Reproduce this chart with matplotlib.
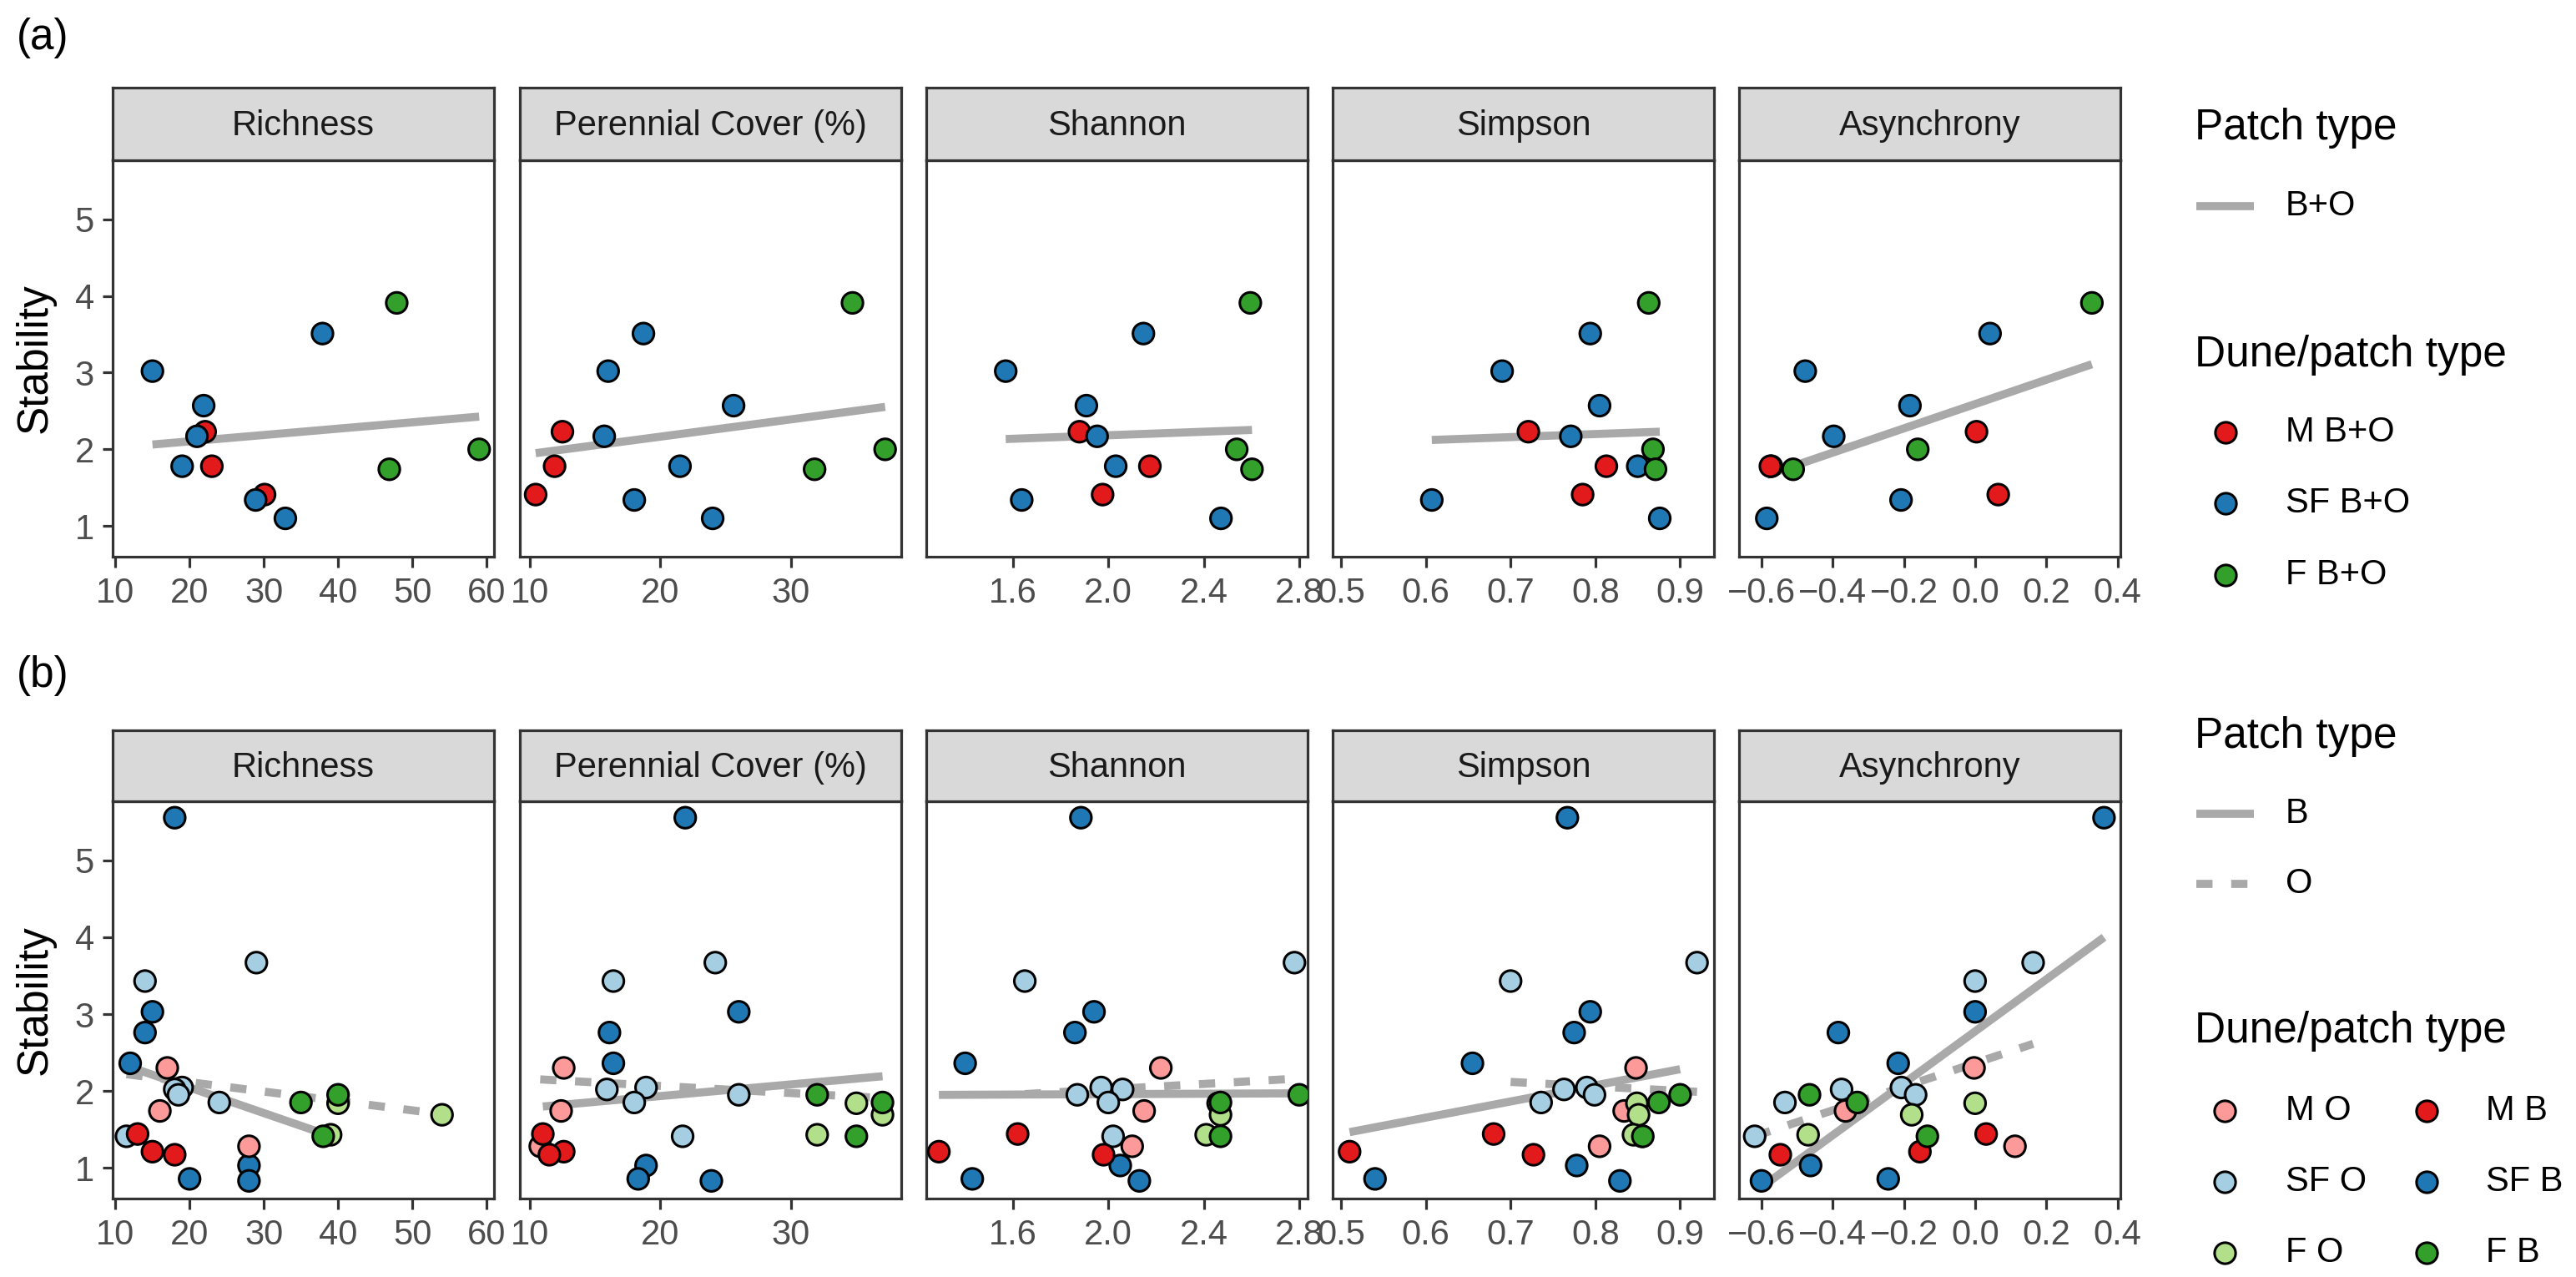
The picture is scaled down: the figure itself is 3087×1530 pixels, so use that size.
import numpy as np
import matplotlib.pyplot as plt

plt.rcParams['font.family'] = ['Liberation Sans', 'DejaVu Sans']

W, H = 3087, 1530

# --- facets ---
facets = ['Richness', 'Perennial Cover (%)', 'Shannon', 'Simpson', 'Asynchrony']
xlims = [(9.64, 61.0), (9.21, 38.4), (1.237, 2.835), (0.49, 0.94), (-0.663, 0.408)]
xticks = [[10, 20, 30, 40, 50, 60], [10, 20, 30], [1.6, 2.0, 2.4, 2.8],
          [0.5, 0.6, 0.7, 0.8, 0.9], [-0.6, -0.4, -0.2, 0.0, 0.2, 0.4]]
xticklabels = [['10', '20', '30', '40', '50', '60'], ['10', '20', '30'],
               ['1.6', '2.0', '2.4', '2.8'], ['0.5', '0.6', '0.7', '0.8', '0.9'],
               ['\u22120.6', '\u22120.4', '\u22120.2', '0.0', '0.2', '0.4']]
ylim = (0.6, 5.77)

# --- panel (a): B+O pooled, one point per site ---
a_group = ['F', 'SF', 'SF', 'SF', 'M', 'SF', 'F', 'SF', 'M', 'F', 'M', 'SF', 'SF']
a_stab = [3.91, 3.51, 3.02, 2.57, 2.23, 2.17, 2.00, 1.78, 1.78, 1.74, 1.41, 1.34, 1.10]
a_rich = [47.9, 37.9, 15.0, 21.9, 22.1, 21.0, 59.0, 19.0, 23.0, 46.9, 30.1, 28.9, 32.9]
a_cover = [34.7, 18.7, 16.0, 25.6, 12.5, 15.7, 37.2, 21.5, 11.9, 31.8, 10.45, 18.0, 24.0]
a_shannon = [2.595, 2.147, 1.57, 1.908, 1.879, 1.953, 2.538, 2.031, 2.174, 2.602, 1.976, 1.637, 2.472]
a_simpson = [0.863, 0.794, 0.69, 0.805, 0.721, 0.771, 0.868, 0.850, 0.813, 0.871, 0.785, 0.607, 0.876]
a_async = [0.328, 0.042, -0.477, -0.183, 0.004, -0.397, -0.161, -0.572, -0.575, -0.511, 0.065, -0.208, -0.585]

# --- panel (b): B and O patches separately ---
b_group = ['SF'] * 7 + ['SF'] * 7 + ['M'] * 3 + ['M'] * 3 + ['F'] * 3 + ['F'] * 3
b_patch = ['B'] * 7 + ['O'] * 7 + ['O'] * 3 + ['B'] * 3 + ['O'] * 3 + ['B'] * 3
b_stab = [5.556, 3.03, 2.76, 2.36, 1.03, 0.856, 0.83,
          3.67, 3.43, 2.045, 2.02, 1.95, 1.85, 1.41,
          2.30, 1.74, 1.28,
          1.44, 1.21, 1.17,
          1.84, 1.69, 1.43,
          1.95, 1.85, 1.41]
b_rich = [18, 15, 14, 12, 28, 20, 28,
          29, 14, 19, 18, 18.5, 24, 11.5,
          17, 16, 28,
          13, 15, 18,
          40, 54, 39,
          40, 35, 38]
b_cover = [21.9, 26.0, 16.1, 16.4, 18.9, 18.3, 23.9,
           24.2, 16.4, 18.9, 15.9, 26.0, 18.0, 21.7,
           12.6, 12.4, 10.8,
           11.0, 12.6, 11.5,
           35.0, 37.0, 32.0,
           32.0, 37.0, 35.0]
b_shannon = [1.885, 1.94, 1.86, 1.40, 2.05, 1.43, 2.13,
             2.78, 1.65, 1.97, 2.06, 1.87, 2.00, 2.02,
             2.22, 2.15, 2.10,
             1.62, 1.29, 1.98,
             2.46, 2.47, 2.41,
             2.80, 2.47, 2.47]
b_simpson = [0.767, 0.794, 0.775, 0.655, 0.778, 0.54, 0.829,
             0.920, 0.70, 0.790, 0.763, 0.799, 0.736, 0.855,
             0.848, 0.834, 0.805,
             0.68, 0.51, 0.727,
             0.849, 0.851, 0.845,
             0.900, 0.875, 0.856]
b_async = [0.362, 0.0, -0.384, -0.216, -0.462, -0.244, -0.6,
           0.163, 0.0, -0.207, -0.375, -0.167, -0.534, -0.619,
           -0.003, -0.364, 0.112,
           0.031, -0.155, -0.547,
           0.0, -0.178, -0.469,
           -0.465, -0.331, -0.134]

colors = {
    'M B+O': '#E31A1C', 'SF B+O': '#1F78B4', 'F B+O': '#33A02C',
    'M O': '#FB9A99', 'SF O': '#A6CEE3', 'F O': '#B2DF8A',
    'M B': '#E31A1C', 'SF B': '#1F78B4', 'F B': '#33A02C',
}
line_col = '#A9A9A9'
border = '#333333'
tick_txt = '#4D4D4D'

FS_TICK = 30
FS_TITLE = 37

# layout in pixels
facet_left = [135, 622.5, 1110, 1597, 2084]
facet_w = 457
rows = {'a': dict(strip_top=105, plot_top=192, plot_bot=667),
        'b': dict(strip_top=875, plot_top=960, plot_bot=1436)}

fig = plt.figure(figsize=(W / 100, H / 100), dpi=100)


def px_rect(x0, y0, x1, y1):
    return [x0 / W, 1 - y1 / H, (x1 - x0) / W, (y1 - y0) / H]


def make_axes(row, j):
    r = rows[row]
    x0 = facet_left[j]
    ax = fig.add_axes(px_rect(x0, r['plot_top'], x0 + facet_w, r['plot_bot']))
    sax = fig.add_axes(px_rect(x0, r['strip_top'], x0 + facet_w, r['plot_top']))
    sax.set_facecolor('#D9D9D9')
    sax.set_xticks([])
    sax.set_yticks([])
    for s in sax.spines.values():
        s.set_color(border)
        s.set_linewidth(2.3)
    sax.text(0.5, 0.47, facets[j], ha='center', va='center', fontsize=FS_TICK,
             color='#1A1A1A', transform=sax.transAxes)
    for s in ax.spines.values():
        s.set_color(border)
        s.set_linewidth(2.3)
    ax.set_xlim(*xlims[j])
    ax.set_ylim(*ylim)
    ax.set_xticks(xticks[j])
    ax.set_xticklabels(xticklabels[j])
    ax.tick_params(axis='x', length=9, width=2.3, color=border, labelsize=FS_TICK,
                   labelcolor=tick_txt, pad=8)
    if j == 0:
        ax.set_yticks([1, 2, 3, 4, 5])
        ax.tick_params(axis='y', length=9, width=2.3, color=border, labelsize=FS_TICK,
                       labelcolor=tick_txt, pad=7)
    else:
        ax.set_yticks([])
    return ax


def fit_line(ax, x, y, ls):
    x = np.asarray(x, float)
    y = np.asarray(y, float)
    k, b = np.polyfit(x, y, 1)
    xs = np.array([x.min(), x.max()])
    if ls == 'solid':
        ax.plot(xs, k * xs + b, color=line_col, lw=7, solid_capstyle='butt', zorder=2)
    else:
        ax.plot(xs, k * xs + b, color=line_col, lw=7, dashes=(2, 2.3),
                dash_capstyle='butt', zorder=2)


a_x = [a_rich, a_cover, a_shannon, a_simpson, a_async]
b_x = [b_rich, b_cover, b_shannon, b_simpson, b_async]

# --- panel (a) ---
a_keys = [g + ' B+O' for g in a_group]
for j in range(5):
    ax = make_axes('a', j)
    fit_line(ax, a_x[j], a_stab, 'solid')
    ax.scatter(a_x[j], a_stab, s=330, c=[colors[k] for k in a_keys],
               edgecolors='black', linewidths=2.2, zorder=3)

# --- panel (b) ---
b_keys = [g + ' ' + p for g, p in zip(b_group, b_patch)]
for j in range(5):
    ax = make_axes('b', j)
    xb = [x for x, p in zip(b_x[j], b_patch) if p == 'B']
    yb = [y for y, p in zip(b_stab, b_patch) if p == 'B']
    xo = [x for x, p in zip(b_x[j], b_patch) if p == 'O']
    yo = [y for y, p in zip(b_stab, b_patch) if p == 'O']
    fit_line(ax, xb, yb, 'solid')
    fit_line(ax, xo, yo, 'dashed')
    ax.scatter(b_x[j], b_stab, s=330, c=[colors[k] for k in b_keys],
               edgecolors='black', linewidths=2.2, zorder=3)

# --- labels ---
fig.text(20 / W, 1 - 45 / H, '(a)', fontsize=FS_TITLE, ha='left', va='center')
fig.text(20 / W, 1 - 810 / H, '(b)', fontsize=FS_TITLE, ha='left', va='center')
for row in 'ab':
    r = rows[row]
    yc = (r['plot_top'] + r['plot_bot']) / 2
    fig.text(42 / W, 1 - yc / H, 'Stability', fontsize=FS_TITLE, rotation=90,
             ha='center', va='center')

# --- legends (drawn on an overlay in pixel units) ---
lax = fig.add_axes([0, 0, 1, 1])
lax.set_xlim(0, W)
lax.set_ylim(H, 0)
lax.axis('off')
lax.patch.set_alpha(0)

LX = 2630
# (a)
lax.text(LX, 153, 'Patch type', fontsize=FS_TITLE, va='center', ha='left')
lax.plot([2632, 2701], [247, 247], color=line_col, lw=7, solid_capstyle='butt')
lax.text(2739, 247, 'B+O', fontsize=FS_TICK, va='center', ha='left')
lax.text(LX, 425, 'Dune/patch type', fontsize=FS_TITLE, va='center', ha='left')
for k, yy in zip(['M B+O', 'SF B+O', 'F B+O'], [518, 603, 689]):
    lax.scatter([2667], [yy], s=330, c=colors[k], edgecolors='black', linewidths=2.2)
    lax.text(2739, yy, k, fontsize=FS_TICK, va='center', ha='left')
# (b)
lax.text(LX, 882, 'Patch type', fontsize=FS_TITLE, va='center', ha='left')
lax.plot([2632, 2701], [975, 975], color=line_col, lw=7, solid_capstyle='butt')
lax.text(2739, 975, 'B', fontsize=FS_TICK, va='center', ha='left')
lax.plot([2632, 2701], [1059, 1059], color=line_col, lw=7, dashes=(2, 2.3),
         dash_capstyle='butt')
lax.text(2739, 1059, 'O', fontsize=FS_TICK, va='center', ha='left')
lax.text(LX, 1235, 'Dune/patch type', fontsize=FS_TITLE, va='center', ha='left')
col1 = ['M O', 'SF O', 'F O']
col2 = ['M B', 'SF B', 'F B']
for ks, mx, tx in [(col1, 2666, 2739), (col2, 2908, 2979)]:
    for k, yy in zip(ks, [1331, 1416, 1501]):
        lax.scatter([mx], [yy], s=330, c=colors[k], edgecolors='black', linewidths=2.2)
        lax.text(tx, yy, k, fontsize=FS_TICK, va='center', ha='left')

fig.savefig('out.png', dpi=100)
